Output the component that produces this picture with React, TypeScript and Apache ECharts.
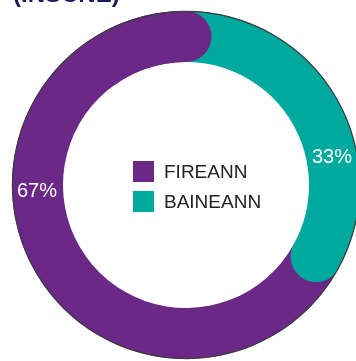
import React, { useEffect, useRef } from "react";
import * as echarts from "echarts";

const categories = ["FIREANN", "BAINEANN"];
const values = [67, 33];
const colors = ["#6b2887", "#00a99d"];
const title = "(INSCNE)";

export default function App() {
  const ref = useRef<HTMLDivElement>(null);
  useEffect(() => {
    if (!ref.current) return;
    const chart = echarts.init(ref.current, undefined, { renderer: "svg" });
    const total = values[0] + values[1];
    const capLen = 10;
    const font = "'Liberation Sans', Arial, sans-serif";
    chart.setOption({
      animation: false,
      title: {
        text: title,
        left: 8,
        top: -24,
        textStyle: { fontSize: 24, fontWeight: 900, color: "#1c1a5e", fontFamily: font },
      },
      legend: {
        data: categories,
        orient: "vertical",
        left: 128,
        top: 156,
        itemWidth: 21,
        itemHeight: 21,
        itemGap: 9,
        icon: "rect",
        selectedMode: false,
        textStyle: { fontSize: 19, color: "#222", fontFamily: font, padding: [0, 0, 0, 5] },
      },
      polar: { center: [186, 185], radius: [123, 174] },
      angleAxis: { type: "value", min: 0, max: total, show: false, startAngle: 90, clockwise: true },
      radiusAxis: { type: "category", data: ["g"], show: false },
      series: [
        {
          name: categories[1],
          type: "bar",
          coordinateSystem: "polar",
          stack: "a",
          roundCap: true,
          barCategoryGap: "0%",
          barGap: "-100%",
          z: 3,
          itemStyle: { color: colors[1] },
          data: [values[1]],
        },
        {
          name: categories[0],
          type: "bar",
          coordinateSystem: "polar",
          stack: "a",
          roundCap: true,
          barCategoryGap: "0%",
          barGap: "-100%",
          z: 2,
          itemStyle: { color: colors[0] },
          data: [values[0]],
        },
        {
          name: "base",
          type: "bar",
          coordinateSystem: "polar",
          stack: "b",
          barCategoryGap: "0%",
          barGap: "-100%",
          z: 1,
          itemStyle: { color: "rgba(0,0,0,0)" },
          silent: true,
          data: [total - capLen],
        },
        {
          name: categories[0],
          type: "bar",
          coordinateSystem: "polar",
          stack: "b",
          roundCap: true,
          barCategoryGap: "0%",
          barGap: "-100%",
          z: 4,
          itemStyle: { color: colors[0] },
          silent: true,
          data: [capLen],
        },
        {
          name: "outline",
          type: "pie",
          center: [186, 185],
          radius: [173, 174.2],
          silent: true,
          z: 5,
          label: { show: false },
          itemStyle: { color: "#3c3c3c" },
          data: [{ value: 1, name: "outline" }],
        },
      ],
      graphic: [
        {
          type: "text",
          x: 37,
          y: 190,
          z: 10,
          style: { text: values[0] + "%", fill: "#fff", fontSize: 20, fontFamily: font, align: "center", verticalAlign: "middle" },
        },
        {
          type: "text",
          x: 332,
          y: 156,
          z: 10,
          style: { text: values[1] + "%", fill: "#fff", fontSize: 20, fontFamily: font, align: "center", verticalAlign: "middle" },
        },
      ],
    });
    return () => chart.dispose();
  }, []);
  return <div ref={ref} style={{ position: "fixed", left: 0, top: 0, width: 356, height: 361 }} />;
}
